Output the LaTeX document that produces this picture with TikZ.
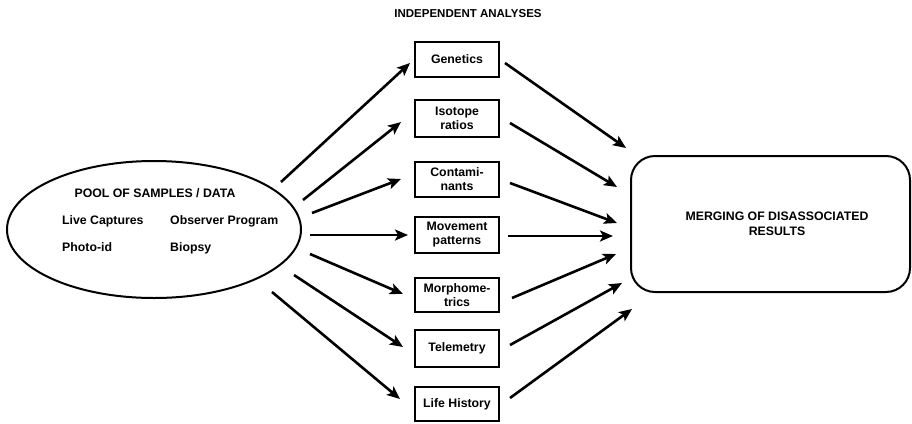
\documentclass[tikz,border=0pt]{standalone}
\usepackage{fontspec}
\setmainfont{Liberation Sans}
\usetikzlibrary{arrows.meta,shapes.geometric}
\begin{document}
\begin{tikzpicture}[x=1pt,y=-1pt,
  lbl/.style={font=\fontsize{12.3}{14}\selectfont\bfseries},
  abox/.style={draw,line width=1.8pt,minimum width=84pt,minimum height=35pt,align=center,inner sep=0pt,lbl},
  arr/.style={line width=2.6pt,-{Stealth[length=13pt,width=11pt,inset=3pt]}}]
\useasboundingbox (0,0) rectangle (912,423);

% title
\node[lbl,font=\fontsize{11.5}{13}\selectfont\bfseries,anchor=base] (title) at (468,17) {INDEPENDENT ANALYSES};

% pool ellipse
\node[draw,ellipse,line width=2pt,minimum width=294pt,minimum height=137pt,inner sep=0pt] (pool) at (154,229.5) {};
\node[lbl,anchor=base] (pooltitle) at (155,197) {POOL OF SAMPLES / DATA};
\node[lbl,anchor=base west,inner sep=0pt] (live) at (62,224) {Live Captures};
\node[lbl,anchor=base west,inner sep=0pt] (obs) at (170,224) {Observer Program};
\node[lbl,anchor=base west,inner sep=0pt] (photo) at (62,251) {Photo-id};
\node[lbl,anchor=base west,inner sep=0pt] (biopsy) at (170,251) {Biopsy};

% analysis boxes
\node[abox] (gen) at (457,59.5) {Genetics};
\node[abox,minimum height=37pt] (iso) at (457,118.5) {Isotope\\ratios};
\node[abox] (con) at (457,179.5) {Contami-\\nants};
\node[abox,minimum height=36pt] (mov) at (457,235) {Movement\\patterns};
\node[abox,minimum height=34pt] (mor) at (457,295) {Morphome-\\trics};
\node[abox,minimum height=37pt] (tel) at (457,348.5) {Telemetry};
\node[abox,minimum height=34pt] (life) at (457,404) {Life History};

% merging box
\node[draw,line width=2pt,rounded corners=24pt,minimum width=279pt,minimum height=136pt] (merge) at (770.5,224) {};
\node[lbl,align=center,font=\fontsize{12.3}{14.5}\selectfont\bfseries] (mergetext) at (777,224) {MERGING OF DISASSOCIATED\\RESULTS};

% arrow end points
\coordinate (s1) at (281,182); \coordinate (t1) at (410,63);
\coordinate (s2) at (303,200); \coordinate (t2) at (401,122);
\coordinate (s3) at (312,213); \coordinate (t3) at (401,179);
\coordinate (s4) at (310,235); \coordinate (t4) at (408,235);
\coordinate (s5) at (310,254); \coordinate (t5) at (403,294);
\coordinate (s6) at (294,275); \coordinate (t6) at (403,347);
\coordinate (s7) at (272,292); \coordinate (t7) at (400,399);

\coordinate (u1) at (505,63);  \coordinate (v1) at (626,148);
\coordinate (u2) at (510,123); \coordinate (v2) at (617,187);
\coordinate (u3) at (510,183); \coordinate (v3) at (617,223);
\coordinate (u4) at (508,236); \coordinate (v4) at (613,236);
\coordinate (u5) at (512,298); \coordinate (v5) at (616,254);
\coordinate (u6) at (510,345); \coordinate (v6) at (622,283);
\coordinate (u7) at (510,398); \coordinate (v7) at (632,309);

\foreach \i in {1,...,7} {
  \draw[arr] (s\i) -- (t\i);
  \draw[arr] (u\i) -- (v\i);
}
\end{tikzpicture}
\end{document}
